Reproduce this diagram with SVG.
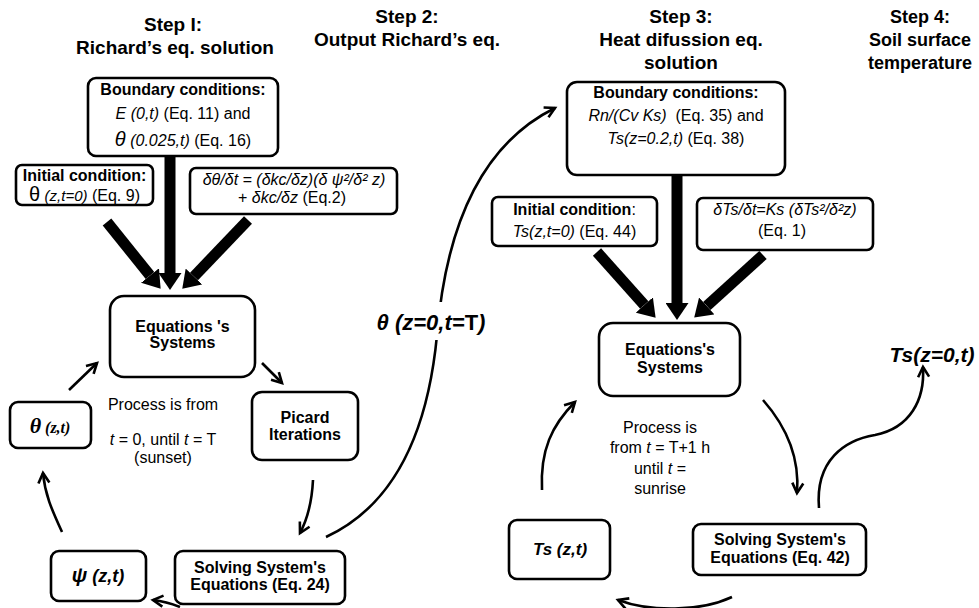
<svg xmlns="http://www.w3.org/2000/svg" width="979" height="608" viewBox="0 0 979 608">
<style>
text{font-family:"Liberation Sans",Arial,sans-serif;fill:#000}
.title{font-size:19px;font-weight:bold;text-anchor:middle}
.b{font-size:16px;font-weight:bold;text-anchor:middle}
.r{font-size:16px;text-anchor:middle}
.eq{font-size:16px;text-anchor:middle}
.i{font-style:italic}
.box{fill:#fff;stroke:#000;stroke-width:2.6}
.thick{stroke:#000;stroke-width:11;fill:none}
.con{stroke:#000;stroke-width:2.6;fill:none}
</style>
<defs>
<marker id="big" markerUnits="userSpaceOnUse" markerWidth="17" markerHeight="23" viewBox="0 0 17 23" refX="0" refY="11.5" orient="auto">
<path d="M0,0 L17,11.5 L0,23 z" fill="#000"/>
</marker>
<marker id="open" markerUnits="userSpaceOnUse" markerWidth="14" markerHeight="14" viewBox="0 0 14 14" refX="11" refY="7" orient="auto">
<path d="M1,1.5 L11,7 L1,12.5" fill="none" stroke="#000" stroke-width="2.6"/>
</marker>
</defs>

<g id="titles">
<text class="title" x="173" y="31">Step I:</text>
<text class="title" x="175" y="54">Richard’s eq. solution</text>
<text class="title" x="407" y="23">Step 2:</text>
<text class="title" x="407" y="46">Output Richard’s eq.</text>
<text class="title" x="681" y="23">Step 3:</text>
<text class="title" x="681" y="46">Heat difussion eq.</text>
<text class="title" x="681" y="69">solution</text>
<text class="title" x="920" y="23" style="font-size:18px">Step 4:</text>
<text class="title" x="920" y="46" style="font-size:18px">Soil surface</text>
<text class="title" x="920" y="69" style="font-size:18px">temperature</text>
</g>

<g id="connectors">
<line class="thick" x1="107" y1="222" x2="150" y2="275.5" marker-end="url(#big)"/>
<line class="thick" x1="170" y1="156" x2="170" y2="273" marker-end="url(#big)"/>
<line class="thick" x1="248" y1="220" x2="194" y2="276.5" marker-end="url(#big)"/>
<line class="thick" x1="597" y1="252" x2="644.3" y2="305" marker-end="url(#big)"/>
<line class="thick" x1="677" y1="175" x2="677" y2="303" marker-end="url(#big)"/>
<line class="thick" x1="763" y1="255" x2="706.8" y2="306" marker-end="url(#big)"/>

<path class="con" d="M69,390 L97,363" marker-end="url(#open)"/>
<path class="con" d="M262,363 L282,383" marker-end="url(#open)"/>
<path class="con" d="M313,480 C312,500 308,518 300,533" marker-end="url(#open)"/>
<path class="con" d="M180,607 C170,603 162,601 153,600" marker-end="url(#open)"/>
<path class="con" d="M62,532 C52,510 45,495 43,473" marker-end="url(#open)"/>
<path class="con" d="M326,537 C395,505 428,430 437,335 C444,250 470,150 555,108" marker-end="url(#open)"/>

<path class="con" d="M542,490 C540,450 552,425 575,402" marker-end="url(#open)"/>
<path class="con" d="M763,400 C785,425 800,455 797,493" marker-end="url(#open)"/>
<path class="con" d="M732,597 C700,612 650,612 618,600" marker-end="url(#open)"/>
<path class="con" d="M819,508 C815,460 845,440 875,435 C910,428 925,400 923,367" marker-end="url(#open)"/>
</g>

<g id="label-theta-out">
<rect x="420" y="302" width="32" height="38" fill="#fff"/>
<text x="431" y="330" style="font-size:22px;font-weight:bold;text-anchor:middle"><tspan class="i">θ (z=0,t=</tspan>T<tspan class="i">)</tspan></text>
</g>

<g id="label-ts-out">
<text x="932" y="362" style="font-size:21px;font-weight:bold;font-style:italic;text-anchor:middle">Ts(z=0,t)</text>
</g>

<g id="bc1">
<rect class="box" x="88" y="78" width="190" height="78" rx="8"/>
<text class="b" x="183" y="95">Boundary conditions:</text>
<text class="r" x="183" y="119"><tspan class="i">E (0,t)</tspan> (Eq. 11) and</text>
<text class="r" x="183" y="146"><tspan class="i" style="font-size:20px">θ</tspan> <tspan class="i">(0.025,t)</tspan> (Eq. 16)</text>
</g>

<g id="ic1">
<rect class="box" x="16" y="165" width="137" height="40" rx="6"/>
<text class="b" x="84.5" y="181">Initial condition:</text>
<text class="r" x="84.5" y="201"><tspan style="font-size:20px">θ</tspan> <tspan class="i" style="font-size:15px">(z,t=0)</tspan> (Eq. 9)</text>
</g>

<g id="eq1">
<rect class="box" x="190" y="168" width="207" height="46" rx="6"/>
<text class="eq i" x="294" y="185">δθ/δt = (δkc/δz)(δ ψ²/δ² z)</text>
<text class="eq" x="292" y="203">+ <tspan class="i">δkc/δz</tspan> (Eq.2)</text>
</g>

<g id="sys1">
<rect class="box" x="110" y="296" width="145" height="81" rx="14"/>
<text class="b" x="182.5" y="332">Equations 's</text>
<text class="b" x="182.5" y="348">Systems</text>
</g>

<g id="picard">
<rect class="box" x="252" y="392" width="106" height="68" rx="10"/>
<text class="b" x="305" y="423">Picard</text>
<text class="b" x="305" y="440">Iterations</text>
</g>

<g id="theta">
<rect class="box" x="10" y="402" width="81" height="46" rx="8"/>
<text x="50" y="433" style="font-family:'Liberation Serif','Times New Roman',serif;font-weight:bold;font-style:italic;text-anchor:middle"><tspan style="font-size:22px">θ</tspan><tspan style="font-size:16px"> (z,t)</tspan></text>
</g>

<g id="psi">
<rect class="box" x="51" y="551" width="95" height="50" rx="8"/>
<text x="98" y="582" style="font-size:18px;font-weight:bold;font-style:italic;text-anchor:middle"><tspan style="font-size:20px">ψ</tspan> (z,t)</text>
</g>

<g id="solve1">
<rect class="box" x="175" y="551" width="170" height="53" rx="8"/>
<text class="b" x="260" y="573">Solving System's</text>
<text class="b" x="260" y="590">Equations (Eq. 24)</text>
</g>

<g id="process1">
<text class="r" x="163" y="410">Process is from</text>
<text class="r" x="163" y="445"><tspan class="i">t</tspan> = 0, until <tspan class="i">t</tspan> = T</text>
<text class="r" x="163" y="463">(sunset)</text>
</g>

<g id="bc2">
<rect class="box" x="567" y="82" width="218" height="93" rx="10"/>
<text class="b" x="676" y="98">Boundary conditions:</text>
<text class="r" x="676" y="121"><tspan class="i">Rn/(Cv Ks)</tspan>&#160; (Eq. 35) and</text>
<text class="r" x="676" y="144"><tspan class="i">Ts(z=0.2,t)</tspan> (Eq. 38)</text>
</g>

<g id="ic2">
<rect class="box" x="492" y="197" width="165" height="49" rx="6"/>
<text class="r" x="574.5" y="215"><tspan font-weight="bold">Initial condition</tspan>:</text>
<text class="r" x="574.5" y="237"><tspan class="i">Ts(z,t=0)</tspan> (Eq. 44)</text>
</g>

<g id="eq2">
<rect class="box" x="697" y="198" width="176" height="52" rx="6"/>
<text class="r i" x="785" y="215">δTs/δt=Ks (δTs²/δ²z)</text>
<text class="r" x="782" y="236">(Eq. 1)</text>
</g>

<g id="sys2">
<rect class="box" x="599" y="323" width="141" height="73" rx="14"/>
<text class="b" x="670" y="355">Equations's</text>
<text class="b" x="670" y="373">Systems</text>
</g>

<g id="solve2">
<rect class="box" x="693" y="524" width="173" height="51" rx="8"/>
<text class="b" x="780" y="545">Solving System's</text>
<text class="b" x="780" y="563">Equations (Eq. 42)</text>
</g>

<g id="ts">
<rect class="box" x="509" y="520" width="101" height="59" rx="8"/>
<text x="560" y="555" style="font-size:17px;font-weight:bold;font-style:italic;text-anchor:middle">Ts (z,t)</text>
</g>

<g id="process2">
<text class="r" x="660" y="433">Process is</text>
<text class="r" x="660" y="453">from <tspan class="i">t</tspan> = T+1 h</text>
<text class="r" x="660" y="474">until <tspan class="i">t</tspan> =</text>
<text class="r" x="660" y="494">sunrise</text>
</g>
</svg>
